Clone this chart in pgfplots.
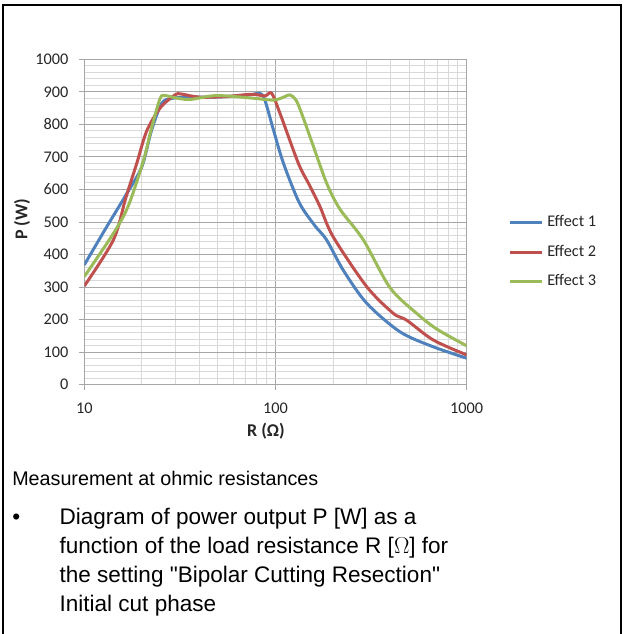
\documentclass[border=0pt]{standalone}
\usepackage{fontspec}
\setmainfont{Carlito}
\newfontfamily\arialfont{Liberation Sans}
\usepackage{pgfplots}
\pgfplotsset{compat=1.18}
\definecolor{effA}{HTML}{4F81BD}
\definecolor{effB}{HTML}{C0504D}
\definecolor{effC}{HTML}{9BBB59}
\definecolor{gridmaj}{HTML}{A6A6A6}
\definecolor{gridmin}{HTML}{D9D9D9}

\begin{document}
\begin{tikzpicture}
\useasboundingbox (0pt,0pt) rectangle (468pt,-475.5pt);
% cell frame
\draw[line width=1.5pt] (2.25pt,-476pt) -- (2.25pt,-3.75pt) -- (465.75pt,-3.75pt) -- (465.75pt,-476pt);

\begin{axis}[
    at={(63.225pt,-288.375pt)}, anchor=south west,
    scale only axis, width=286.8pt, height=243.75pt,
    xmode=log, xmin=10, xmax=1000, ymin=0, ymax=1000,
    xtick={10,100,1000}, log ticks with fixed point,
    ytick={0,100,...,1000}, minor y tick num=4,
    /pgf/number format/1000 sep={},
    /pgf/number format/assume math mode=true,
    grid=both,
    major grid style={draw=gridmaj, line width=0.75pt},
    minor grid style={draw=gridmin, line width=0.75pt},
    axis line style={draw=gridmaj, line width=0.75pt},
    tick pos=left, tick align=outside,
    major tick length=3.75pt, minor tick length=0pt,
    tick style={draw=gridmaj, line width=0.75pt},
    ticklabel style={font=\fontsize{12.2}{14}\selectfont, text=black!85},
    yticklabel style={anchor=east, inner sep=0pt, xshift=-8pt},
    xticklabel style={anchor=north, inner sep=0pt, yshift=-10pt},
    xlabel={R (Ω)}, ylabel={P (W)},
    every axis x label/.style={at={(axis description cs:0.475,-0.143)}, anchor=center,
        font=\fontsize{13.5}{15}\selectfont\bfseries, text=black!85},
    every axis y label/.style={at={(axis description cs:-0.163,0.509)}, rotate=90, anchor=center,
        font=\fontsize{13.5}{15}\selectfont\bfseries, text=black!85},
    legend style={at={(1.108,0.407)}, anchor=west, draw=none, fill=none, inner sep=0pt,
        font=\fontsize{12.2}{14}\selectfont, text=black!85, row sep=11.1pt,
        nodes={inner sep=0pt, text height=8.5pt, text depth=2.5pt},
        /tikz/every odd column/.append style={column sep=3pt}},
    legend cell align=left,
    legend image code/.code={\draw[#1] (0pt,0pt) -- (24pt,0pt);},
    every axis plot/.append style={line width=2.25pt, smooth, mark=none},
]
\addplot[effA] coordinates {
    (10,368) (13,482) (16.7,588) (20,670) (22.5,783) (25.4,865) (28.6,880)
    (35,885) (45,884) (60,887) (75,892) (83,896) (88,875) (97.6,783)
    (110,681) (133,560) (160,490) (185,445) (226,352) (300,250) (448,162)
    (668,116) (1000,81)
};
\addplot[effB] coordinates {
    (10,303) (14.2,445) (16.5,575) (18.8,680) (21.2,780) (25,852) (29.8,891)
    (32,894) (40,884) (55,886) (75,893) (88,888) (95.5,896) (105.6,834)
    (131.6,681) (150,615) (171,547) (200,455) (300,301) (413,219) (485,198)
    (668,137) (1000,91)
};
\addplot[effC] coordinates {
    (10,332) (14.2,465) (17,550) (20.4,690) (22.5,790) (24.9,880) (26.4,889)
    (30,882) (35.7,877) (49,889) (76,881) (97,875) (108,882) (119,891)
    (128,875) (137,834) (158,732) (185,620) (217,540) (288,445) (397,298)
    (547,219) (700,170) (1000,119)
};
\legend{Effect 1, Effect 2, Effect 3}
\end{axis}

% caption text under the chart
\node[anchor=base west, inner sep=0pt, font=\arialfont\fontsize{14.8}{17}\selectfont]
    at (9pt,-363.75pt) {Measurement at ohmic resistances};
\node[anchor=base west, inner sep=0pt, font=\arialfont\fontsize{16.9}{21.75}\selectfont]
    at (9pt,-393pt) {•};
% multi-line node: its base anchor is the baseline of the last line
\node[anchor=base west, inner sep=0pt, align=left, font=\arialfont\fontsize{16.9}{21.75}\selectfont]
    at (44.5pt,-458.25pt) {Diagram of power output P [W] as a\\
    function of the load resistance R [$\Omega$] for\\
    the setting "Bipolar Cutting Resection"\\
    Initial cut phase};
\end{tikzpicture}
\end{document}
